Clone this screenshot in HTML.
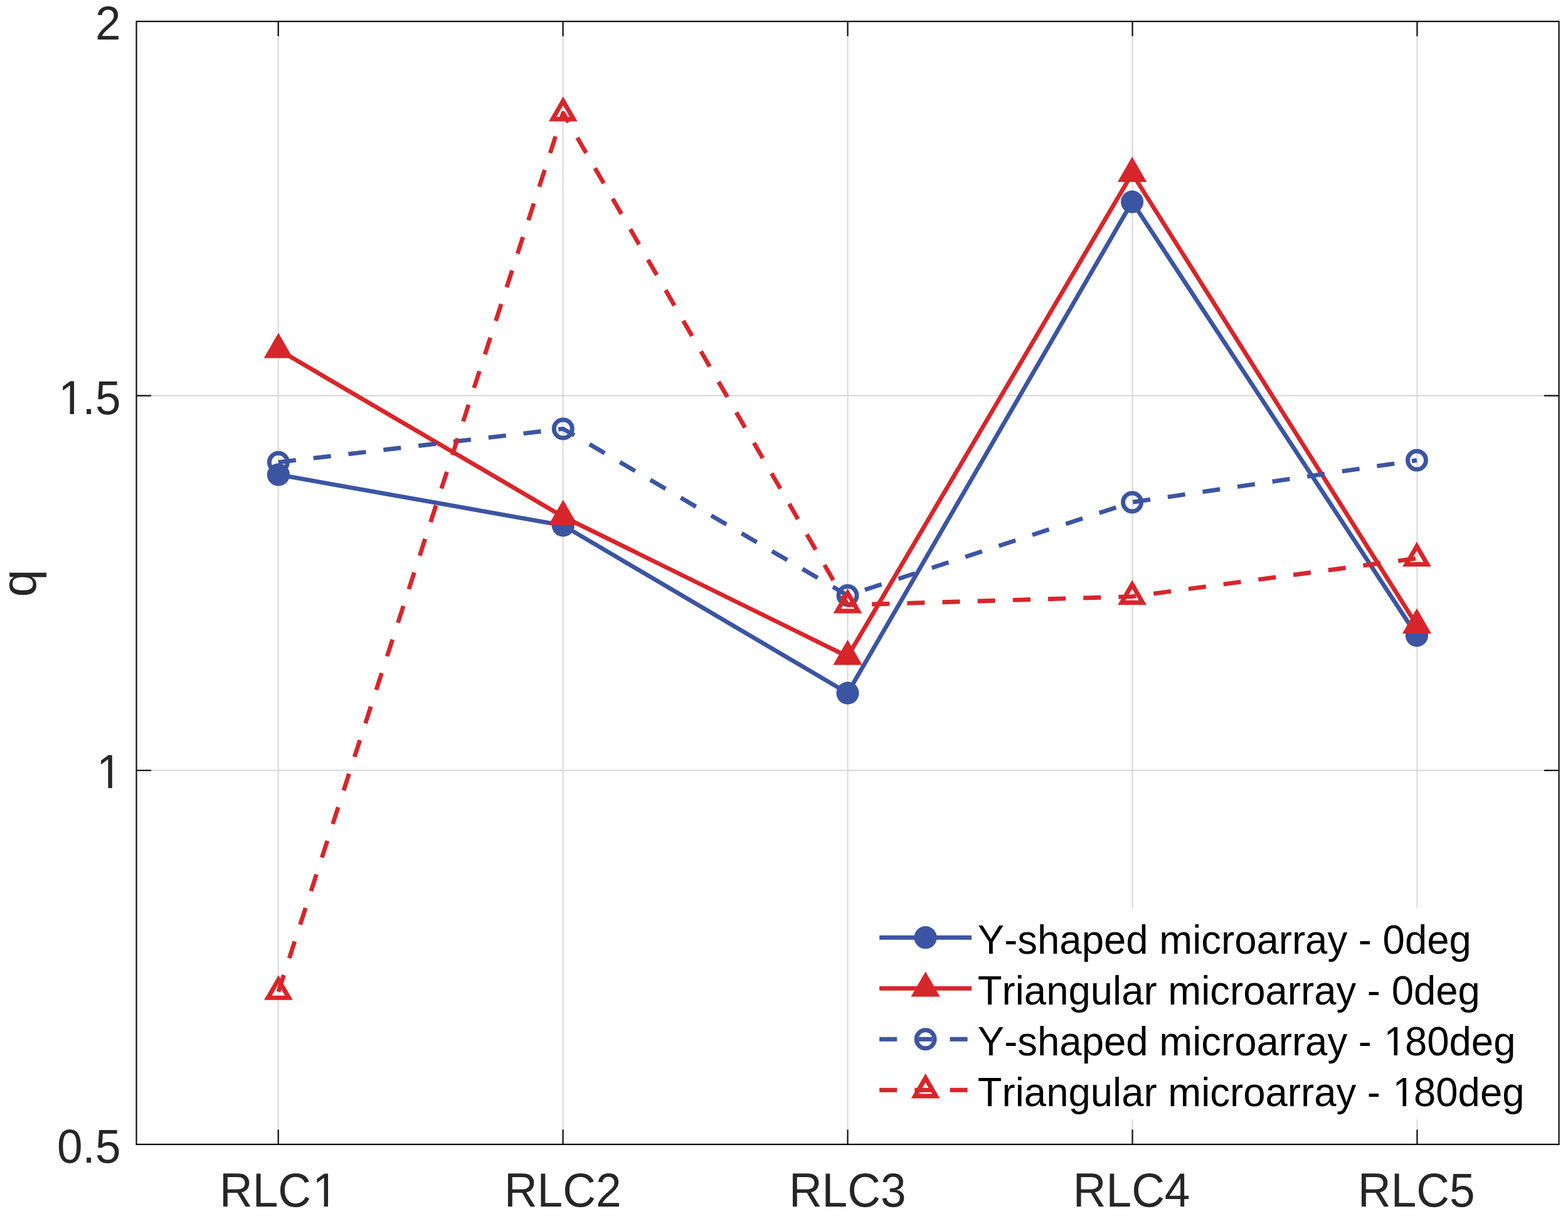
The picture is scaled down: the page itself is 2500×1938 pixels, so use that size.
<!DOCTYPE html>
<html><head><meta charset="utf-8"><title>q vs RLC</title>
<style>
html,body{margin:0;padding:0;background:#fff;}
svg{display:block;}
text{font-family:"Liberation Sans",Arial,Helvetica,sans-serif;font-kerning:none;}
</style></head>
<body>
<svg width="2500" height="1938" viewBox="0 0 2500 1938">
<rect x="0" y="0" width="2500" height="1938" fill="#fff"/>
<path d="M443.7,34.15 V1823.8 M897.6,34.15 V1823.8 M1351.55,34.15 V1823.8 M1805.55,34.15 V1823.8 M2259.45,34.15 V1823.8 M217.54,630.55 H2485.57 M217.54,1227.8 H2485.57" stroke="#dadada" stroke-width="2.2" fill="none"/>
<path d="M443.9,756.5 L897.8,837.4 L1351.5,1104.6 L1805.1,321.7 L2258.95,1012.8" fill="none" stroke="#3c55a2" stroke-width="6.9" stroke-linejoin="round"/><circle cx="443.9" cy="756.5" r="18.1" fill="#3c55a2"/><circle cx="897.8" cy="837.4" r="18.1" fill="#3c55a2"/><circle cx="1351.5" cy="1104.6" r="18.1" fill="#3c55a2"/><circle cx="1805.1" cy="321.7" r="18.1" fill="#3c55a2"/><circle cx="2258.95" cy="1012.8" r="18.1" fill="#3c55a2"/>
<path d="M443.9,557.3 L897.8,823.4 L1351.5,1046.3 L1805.1,276.5 L2258.95,996.3" fill="none" stroke="#d7262b" stroke-width="6.9" stroke-linejoin="round"/><polygon points="443.9,530.5 420.69,570.7 467.11,570.7" fill="#d7262b"/><polygon points="897.8,796.6 874.59,836.8 921.01,836.8" fill="#d7262b"/><polygon points="1351.5,1019.5 1328.29,1059.7 1374.71,1059.7" fill="#d7262b"/><polygon points="1805.1,249.7 1781.89,289.9 1828.31,289.9" fill="#d7262b"/><polygon points="2258.95,969.5 2235.74,1009.7 2282.16,1009.7" fill="#d7262b"/>
<path d="M443.9,736.7 L897.8,683.4 L1351.5,949 L1805.1,800.4 L2258.95,733.6" fill="none" stroke="#3c55a2" stroke-width="6.9" stroke-linejoin="round" stroke-dasharray="28.1 28.1"/><circle cx="443.9" cy="736.7" r="14.5" fill="none" stroke="#3c55a2" stroke-width="7.0"/><circle cx="897.8" cy="683.4" r="14.5" fill="none" stroke="#3c55a2" stroke-width="7.0"/><circle cx="1351.5" cy="949" r="14.5" fill="none" stroke="#3c55a2" stroke-width="7.0"/><circle cx="1805.1" cy="800.4" r="14.5" fill="none" stroke="#3c55a2" stroke-width="7.0"/><circle cx="2258.95" cy="733.6" r="14.5" fill="none" stroke="#3c55a2" stroke-width="7.0"/>
<path d="M443.9,1580.6 L897.8,180.2 L1351.5,964.2 L1805.1,950.7 L2258.95,889.8" fill="none" stroke="#d7262b" stroke-width="6.9" stroke-linejoin="round" stroke-dasharray="28.1 28.1"/><path d="M443.9,1554.14 L420.98,1593.83 L466.82,1593.83 Z M443.9,1568.46 L433.39,1586.67 L454.41,1586.67 Z" fill="#d7262b" fill-rule="evenodd"/><path d="M897.8,153.74 L874.88,193.43 L920.72,193.43 Z M897.8,168.06 L887.29,186.27 L908.31,186.27 Z" fill="#d7262b" fill-rule="evenodd"/><path d="M1351.5,937.74 L1328.58,977.43 L1374.42,977.43 Z M1351.5,952.06 L1340.99,970.27 L1362.01,970.27 Z" fill="#d7262b" fill-rule="evenodd"/><path d="M1805.1,924.24 L1782.18,963.93 L1828.02,963.93 Z M1805.1,938.56 L1794.59,956.77 L1815.61,956.77 Z" fill="#d7262b" fill-rule="evenodd"/><path d="M2258.95,863.34 L2236.03,903.03 L2281.87,903.03 Z M2258.95,877.66 L2248.44,895.87 L2269.46,895.87 Z" fill="#d7262b" fill-rule="evenodd"/>
<rect x="1390" y="1447" width="1080" height="337" fill="#fff"/>
<path d="M1402.1,1494.2 H1549.1" stroke="#3c55a2" stroke-width="6.9" fill="none"/>
<circle cx="1475.6" cy="1494.2" r="18.1" fill="#3c55a2"/>
<g transform="translate(1558.8,1519.8) scale(1,1.02)"><text x="0 42.35 63.5 95.25 130.57 165.88 201.2 236.51 271.83 289.47 342.37 356.47 388.22 409.37 444.69 480 501.15 522.29 557.61 589.36 607 628.15 645.79 681.11 716.42 751.74" y="0" font-size="63.5" fill="#000">Y-shaped microarray - 0deg</text></g>
<path d="M1402.1,1575.2 H1549.1" stroke="#d7262b" stroke-width="6.9" fill="none"/>
<polygon points="1475.6,1548.4 1452.39,1588.6 1498.81,1588.6" fill="#d7262b"/>
<g transform="translate(1558.8,1600.8) scale(1,1.02)"><text x="0 38.79 59.93 74.04 109.36 144.67 179.99 215.3 229.41 264.73 285.87 303.52 356.41 370.52 402.27 423.42 458.73 494.05 515.19 536.34 571.66 603.41 621.05 642.19 659.84 695.15 730.47 765.78" y="0" font-size="63.5" fill="#000">Triangular microarray - 0deg</text></g>
<path d="M1402.1,1656.3 H1549.1" stroke="#3c55a2" stroke-width="6.9" fill="none" stroke-dasharray="28.1 28.1"/>
<circle cx="1475.6" cy="1656.3" r="14.5" fill="none" stroke="#3c55a2" stroke-width="7.0"/>
<g transform="translate(1558.8,1681.9) scale(1,1.02)"><text x="0 42.35 63.5 95.25 130.57 165.88 201.2 236.51 271.83 289.47 342.37 356.47 388.22 409.37 444.69 480 501.15 522.29 557.61 589.36 607 628.15 647.65 681.11 716.42 751.74 787.05 822.37" y="0" font-size="63.5" fill="#000">Y-shaped microarray - 180deg</text><rect x="651.69" y="-5.44" width="11.93" height="6.34" fill="#fff"/><rect x="669.23" y="-5.44" width="11.44" height="6.34" fill="#fff"/></g>
<path d="M1402.1,1737.3 H1549.1" stroke="#d7262b" stroke-width="6.9" fill="none" stroke-dasharray="28.1 28.1"/>
<path d="M1475.6,1710.84 L1452.68,1750.53 L1498.52,1750.53 Z M1475.6,1725.16 L1465.09,1743.37 L1486.11,1743.37 Z" fill="#d7262b" fill-rule="evenodd"/>
<g transform="translate(1558.8,1762.9) scale(1,1.02)"><text x="0 38.79 59.93 74.04 109.36 144.67 179.99 215.3 229.41 264.73 285.87 303.52 356.41 370.52 402.27 423.42 458.73 494.05 515.19 536.34 571.66 603.41 621.05 642.19 661.7 695.15 730.47 765.78 801.1 836.41" y="0" font-size="63.5" fill="#000">Triangular microarray - 180deg</text><rect x="665.73" y="-5.44" width="11.93" height="6.34" fill="#fff"/><rect x="683.28" y="-5.44" width="11.44" height="6.34" fill="#fff"/></g>
<path d="M217.54,34.15 H2485.57 V1823.8 H217.54 Z M443.7,1823.8 V1800.3 M443.7,34.15 V57.65 M897.6,1823.8 V1800.3 M897.6,34.15 V57.65 M1351.55,1823.8 V1800.3 M1351.55,34.15 V57.65 M1805.55,1823.8 V1800.3 M1805.55,34.15 V57.65 M2259.45,1823.8 V1800.3 M2259.45,34.15 V57.65 M217.54,630.55 H241.04 M2485.57,630.55 H2462.07 M217.54,1227.8 H241.04 M2485.57,1227.8 H2462.07" stroke="#111111" stroke-width="2.2" fill="none" stroke-linejoin="miter"/>
<g transform="translate(151.9,62.8) scale(1,1.034)"><text x="0" y="0" font-size="73.0" fill="#262626">2</text></g>
<g transform="translate(91.02,659.6) scale(1,1.034)"><text x="2.14 40.6 60.88" y="0" font-size="73.0" fill="#262626">1.5</text><rect x="6.9" y="-6.15" width="13.6" height="7.05" fill="#fff"/><rect x="26.95" y="-6.15" width="13.03" height="7.05" fill="#fff"/></g>
<g transform="translate(151.9,1256.2) scale(1,1.034)"><text x="2.14" y="0" font-size="73.0" fill="#262626">1</text><rect x="6.9" y="-6.15" width="13.6" height="7.05" fill="#fff"/><rect x="26.95" y="-6.15" width="13.03" height="7.05" fill="#fff"/></g>
<g transform="translate(91.02,1852.6) scale(1,1.034)"><text x="0 40.6 60.88" y="0" font-size="73.0" fill="#262626">0.5</text></g>
<g transform="translate(349.98,1922.5) scale(1,1.034)"><text x="0 52.72 93.32 148.17" y="0" font-size="73.0" fill="#262626">RLC1</text><rect x="152.93" y="-6.15" width="13.6" height="7.05" fill="#fff"/><rect x="172.98" y="-6.15" width="13.03" height="7.05" fill="#fff"/></g>
<g transform="translate(803.88,1922.5) scale(1,1.034)"><text x="0 52.72 93.32 146.04" y="0" font-size="73.0" fill="#262626">RLC2</text></g>
<g transform="translate(1257.88,1922.5) scale(1,1.034)"><text x="0 52.72 93.32 146.04" y="0" font-size="73.0" fill="#262626">RLC3</text></g>
<g transform="translate(1710.83,1922.5) scale(1,1.034)"><text x="0 52.72 93.32 146.04" y="0" font-size="73.0" fill="#262626">RLC4</text></g>
<g transform="translate(2165.03,1922.5) scale(1,1.034)"><text x="0 52.72 93.32 146.04" y="0" font-size="73.0" fill="#262626">RLC5</text></g>
<text transform="translate(56.6,929.5) rotate(-90)" font-size="79.5" fill="#262626" text-anchor="middle">q</text>
</svg>
</body></html>
